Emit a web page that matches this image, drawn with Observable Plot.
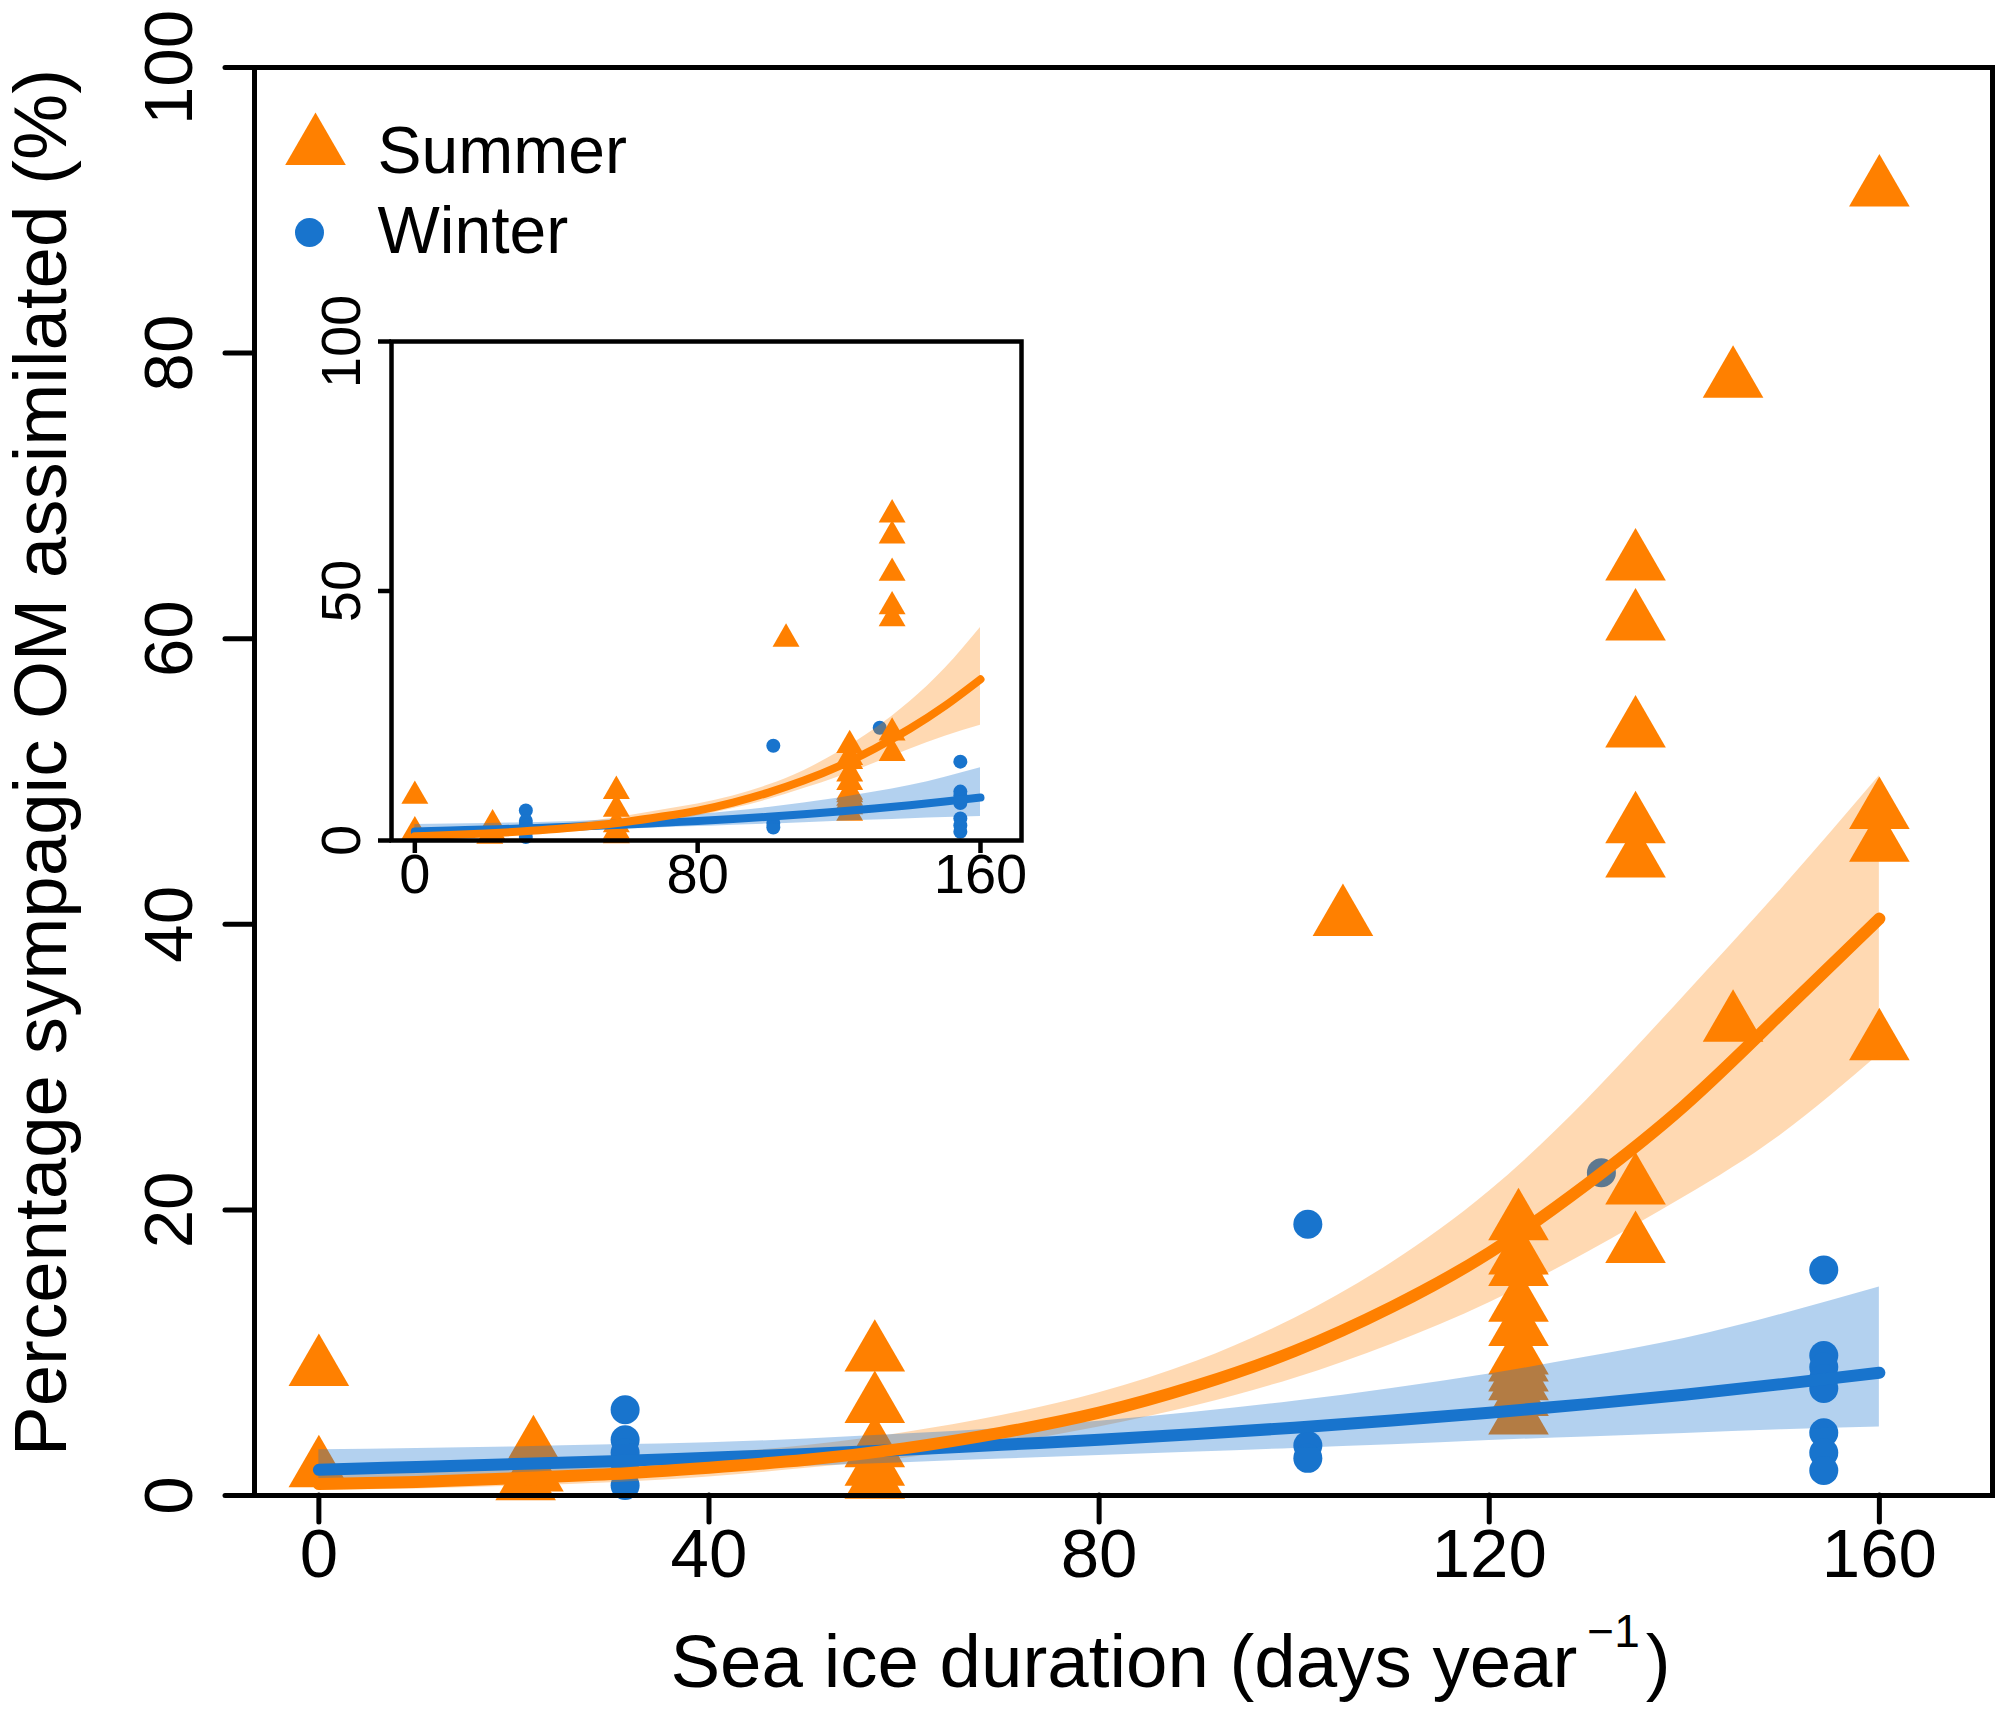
<!DOCTYPE html>
<html><head><meta charset="utf-8">
<script src="https://cdn.jsdelivr.net/npm/d3@7"></script>
<script src="https://cdn.jsdelivr.net/npm/@observablehq/plot@0.6"></script>
<style>
html,body{margin:0;padding:0;background:#fff;overflow:hidden;}
#wrap{position:relative;width:2011px;height:1716px;}
#inset{position:absolute;left:291px;top:291px;}
svg{display:block;}
</style></head><body>
<div id="wrap"><div id="main"></div><div id="inset"></div></div>
<script>
// ---------- data ----------
const summerDay = [0,0, 22,22,21.2, 57,57,57,57,57, 105,
  123,123,123,123,123,123,123,123,123,123,123,
  135,135,135,135,135,135,135, 145,145, 160,160,160,160];
const summerPct = [8.9,1.8, 3.2,1.5,0.9, 9.9,6.3,3.2,1.9,1.0, 40.4,
  19.1,16.7,15.9,13.4,11.7,9.7,9.2,8.5,7.9,6.8,5.5,
  65.3,61.1,53.6,46.9,44.5,21.6,17.5, 78.1,33.0, 91.5,47.9,45.6,31.7];
const winterDay = [31.4,31.4,31.4,31.4,31.4, 101.4,101.4,101.4, 131.5,
  154.3,154.3,154.3,154.3,154.3,154.3,154.3,154.3];
const winterPct = [6.0,3.9,3.0,1.7,0.7, 19.0,3.5,2.6, 22.6,
  15.8,9.8,9.0,8.2,7.5,4.4,3.0,1.75];
const insetExcludedDays = [145, 160];

// fitted curves and 95% bands (main panel)
const fitDay    = [0,10,20,30,40,50,60,70,80,90,100,110,120,130,140,150,160];
const summerFit = [0.8,0.95,1.2,1.5,1.95,2.5,3.3,4.4,5.8,7.7,10.1,13.2,17.0,21.8,27.3,33.8,40.4];
const summerLo  = [0.35,0.45,0.65,0.9,1.3,1.9,2.6,3.6,4.8,6.3,8.2,10.6,13.5,17.0,20.9,25.3,30.9];
const summerHi  = [1.7,1.8,2.1,2.4,2.9,3.5,4.4,5.6,7.2,9.4,12.4,16.3,21.3,27.7,35.0,42.5,50.4];
const winterFit = [1.8,2.0,2.2,2.4,2.65,2.9,3.2,3.55,3.9,4.3,4.75,5.25,5.8,6.4,7.05,7.8,8.6];
const winterLo  = [1.0,1.2,1.4,1.6,1.8,2.05,2.3,2.55,2.8,3.05,3.3,3.55,3.85,4.1,4.35,4.6,4.8];
const winterHi  = [3.2,3.3,3.4,3.55,3.7,3.95,4.3,4.7,5.2,5.85,6.6,7.5,8.5,9.7,11.0,12.7,14.6];
// inset summer fit (without the 145 and 160 day summer samples)
const insetFit  = [0.86,1.1,1.4,1.8,2.3,2.95,3.75,4.8,6.0,7.6,9.6,12.0,14.9,18.4,22.4,27.0,32.3];
const insetLo   = [0.4,0.55,0.75,1.05,1.45,2.0,2.75,3.7,4.9,6.4,8.2,10.4,12.8,15.5,18.3,20.9,23.1];
const insetHi   = [1.8,1.95,2.2,2.55,3.1,3.9,4.9,6.1,7.3,8.9,11.1,14.0,17.8,22.3,27.8,34.5,42.7];

const xTicks = [0,40,80,120,160];
const yTicks = [0,20,40,60,80,100];
const insetXTicks = [0,80,160];
const insetYTicks = [0,50,100];
const legendLabels = ["Summer","Winter"];
const yTitle = "Percentage sympagic OM assimilated (%)";
const xTitle = "Sea ice duration (days year";
const xTitleSup = "\u22121";
const xTitleEnd = ")";

// ---------- derived tables ----------
const summer = summerDay.map((d,i)=>({d, v: summerPct[i]}));
const winter = winterDay.map((d,i)=>({d, v: winterPct[i]}));
const summerInset = summer.filter(p => !insetExcludedDays.includes(p.d));
const fit = fitDay.map((d,i)=>({d, s: summerFit[i], sLo: summerLo[i], sHi: summerHi[i],
  w: winterFit[i], wLo: winterLo[i], wHi: winterHi[i],
  iS: insetFit[i], iLo: insetLo[i], iHi: insetHi[i]}));

const ORANGE = "#FF8000", BLUE = "#1874CD";
const FONT = "'Liberation Sans', Arial, Helvetica, sans-serif";

const main = Plot.plot({
  width: 2011, height: 1716,
  marginLeft: 254, marginRight: 19, marginTop: 67, marginBottom: 221,
  x: {domain: [-6.6, 171.6]},
  y: {domain: [0, 100]},
  style: {fontFamily: FONT, background: "white", color: "black"},
  marks: [
    Plot.dot(winter, {x: "d", y: "v", r: 14.5, fill: BLUE}),
    Plot.dot(summer, {x: "d", y: "v", symbol: "triangle", r: 22.5, fill: ORANGE}),
    Plot.areaY(fit, {x: "d", y1: "sLo", y2: "sHi", fill: ORANGE, fillOpacity: 0.3, curve: "natural"}),
    Plot.areaY(fit, {x: "d", y1: "wLo", y2: "wHi", fill: BLUE, fillOpacity: 0.33, curve: "natural"}),
    Plot.line(fit, {x: "d", y: "w", stroke: BLUE, strokeWidth: 12, curve: "natural", strokeLinecap: "round"}),
    Plot.line(fit, {x: "d", y: "s", stroke: ORANGE, strokeWidth: 12, curve: "natural", strokeLinecap: "round"}),
    Plot.frame({stroke: "black", strokeWidth: 5}),
    Plot.axisX(xTicks, {tickSize: 27, tickPadding: 5, fontSize: 69, strokeWidth: 5, strokeLinecap: "round", label: null, tickFormat: d => String(d)}),
    Plot.axisY(yTicks, {tickSize: 29, tickPadding: 34, tickRotate: -90, fontSize: 69, strokeWidth: 5, strokeLinecap: "round", label: null, tickFormat: d => String(d)}),
    Plot.text([yTitle], {frameAnchor: "left", dx: -189, dy: -19, rotate: -90, textAnchor: "middle", lineAnchor: "bottom", fontSize: 74.5, text: d => d}),
    Plot.text([xTitle], {frameAnchor: "bottom", dx: 47, dy: 191, textAnchor: "middle", lineAnchor: "bottom", fontSize: 74.5, text: d => d}),
    // legend
    Plot.dot(legendLabels.slice(0,1), {frameAnchor: "top-left", dx: 61, dy: 80, symbol: "triangle", r: 22.5, fill: ORANGE}),
    Plot.dot(legendLabels.slice(1,2), {frameAnchor: "top-left", dx: 55, dy: 165, r: 14.5, fill: BLUE}),
    Plot.text(legendLabels.slice(0,1), {frameAnchor: "top-left", dx: 123, dy: 105, textAnchor: "start", lineAnchor: "bottom", fontSize: 66, text: d => d}),
    Plot.text(legendLabels.slice(1,2), {frameAnchor: "top-left", dx: 123, dy: 185, textAnchor: "start", lineAnchor: "bottom", fontSize: 66, text: d => d})
  ]
});
document.getElementById("main").appendChild(main);

// superscript in x title
const xtNode = Array.from(main.querySelectorAll("text")).find(t => t.textContent === xTitle);
if (xtNode) {
  const xt = d3.select(xtNode);
  xt.text(null);
  xt.append("tspan").text(xTitle);
  xt.append("tspan").attr("dx", 10).attr("dy", -40).attr("font-size", 46).text(xTitleSup);
  xt.append("tspan").attr("dx", 6).attr("dy", 40).text(xTitleEnd);
}

const inset = Plot.plot({
  width: 740, height: 629,
  marginLeft: 100, marginRight: 10, marginTop: 50, marginBottom: 80,
  x: {domain: [-6.6, 171.6]},
  y: {domain: [0, 100]},
  style: {fontFamily: FONT, background: "transparent", color: "black"},
  marks: [
    Plot.frame({fill: "white"}),
    Plot.dot(winter, {x: "d", y: "v", r: 7, fill: BLUE}),
    Plot.dot(summerInset, {x: "d", y: "v", symbol: "triangle", r: 10, fill: ORANGE}),
    Plot.areaY(fit, {x: "d", y1: "iLo", y2: "iHi", fill: ORANGE, fillOpacity: 0.3, curve: "natural"}),
    Plot.areaY(fit, {x: "d", y1: "wLo", y2: "wHi", fill: BLUE, fillOpacity: 0.33, curve: "natural"}),
    Plot.line(fit, {x: "d", y: "w", stroke: BLUE, strokeWidth: 8, curve: "natural", strokeLinecap: "round"}),
    Plot.line(fit, {x: "d", y: "iS", stroke: ORANGE, strokeWidth: 8, curve: "natural", strokeLinecap: "round"}),
    Plot.frame({stroke: "black", strokeWidth: 4.5}),
    Plot.axisX(insetXTicks, {tickSize: 13, tickPadding: 0, fontSize: 56, strokeWidth: 4.5, label: null, tickFormat: d => String(d)}),
    Plot.axisY(insetYTicks, {tickSize: 13, tickPadding: 19, tickRotate: -90, fontSize: 56, strokeWidth: 4.5, label: null, tickFormat: d => String(d)})
  ]
});
document.getElementById("inset").appendChild(inset);
</script></body></html>
